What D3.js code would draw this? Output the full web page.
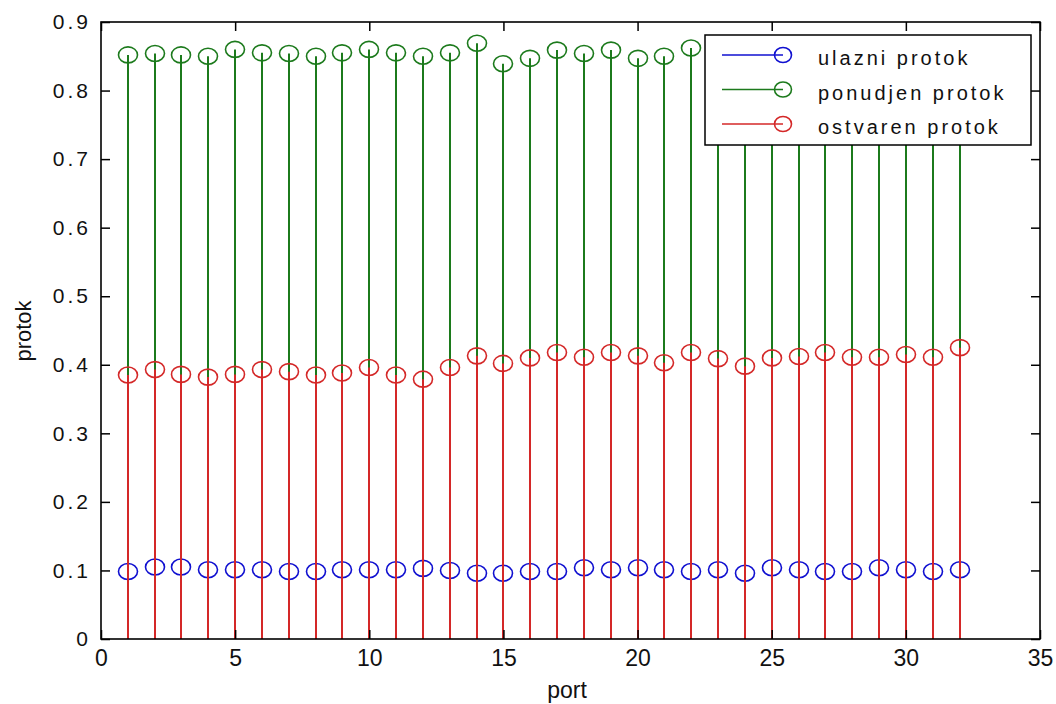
<!DOCTYPE html>
<html>
<head>
<meta charset="utf-8">
<title>protok po portu</title>
<script src="https://d3js.org/d3.v7.min.js"></script>
<style>
body { margin: 0; padding: 0; background: #fff; }
svg text { font-family: "Liberation Sans", Arial, sans-serif; fill: #111; }
</style>
</head>
<body>
<svg id="chart" width="1056" height="704"></svg>
<script>
// data
var ports = d3.range(1, 33);
var ulazni = [0.0985,0.105,0.105,0.101,0.101,0.101,0.0985,0.0985,0.101,0.101,0.101,0.103,0.100,0.096,0.096,0.0985,
              0.0985,0.104,0.101,0.104,0.101,0.0985,0.101,0.096,0.104,0.101,0.0985,0.0985,0.104,0.101,0.0985,0.101];
var ponudjen = [0.852,0.854,0.852,0.850,0.860,0.855,0.854,0.850,0.855,0.860,0.855,0.850,0.855,0.869,0.839,0.847,
                0.859,0.854,0.859,0.847,0.850,0.862,0.852,0.850,0.855,0.853,0.851,0.856,0.852,0.854,0.850,0.857];
var ostvaren = [0.385,0.393,0.386,0.382,0.386,0.393,0.390,0.385,0.388,0.396,0.385,0.379,0.396,0.413,0.402,0.410,
                0.418,0.411,0.418,0.413,0.403,0.418,0.409,0.398,0.410,0.412,0.418,0.411,0.411,0.415,0.411,0.425];
var seriesNames = ["ulazni protok", "ponudjen protok", "ostvaren protok"];
var seriesColors = ["#1010d0", "#1c7a1c", "#d42828"];
var xTicks = [0, 5, 10, 15, 20, 25, 30, 35];
var yTicks = [0, 0.1, 0.2, 0.3, 0.4, 0.5, 0.6, 0.7, 0.8, 0.9];

var margin = {top: 22, right: 16, bottom: 65, left: 101},
    width = 1056 - margin.left - margin.right,
    height = 704 - margin.top - margin.bottom;

var svg = d3.select("#chart");
var g = svg.append("g").attr("transform", "translate(" + margin.left + "," + margin.top + ")");

var x = d3.scaleLinear().domain([0, 35]).range([0, width]);
var y = d3.scaleLinear().domain([0, 0.9]).range([height, 0]);

var allSeries = [ulazni, ponudjen, ostvaren];

// stems + circles, drawn in series order (blue, green, red on top)
allSeries.forEach(function(vals, si) {
  var sg = g.append("g");
  var pts = ports.map(function(p, i) { return {p: p, v: vals[i]}; });
  sg.selectAll("line").data(pts).enter().append("line")
    .attr("x1", function(d) { return Math.round(x(d.p)); })
    .attr("x2", function(d) { return Math.round(x(d.p)); })
    .attr("y1", y(0))
    .attr("y2", function(d) { return y(d.v); })
    .attr("stroke", seriesColors[si])
    .attr("stroke-width", 2);
  sg.selectAll("ellipse").data(pts).enter().append("ellipse")
    .attr("cx", function(d) { return Math.round(x(d.p)); })
    .attr("cy", function(d) { return y(d.v); })
    .attr("rx", 9.5)
    .attr("ry", 8)
    .attr("fill", "none")
    .attr("stroke", seriesColors[si])
    .attr("stroke-width", 1.6);
});

// axes, inward ticks on all four sides
var tickLen = 9;
g.append("g").attr("transform", "translate(0," + height + ")")
  .call(d3.axisBottom(x).tickValues(xTicks).tickSizeInner(-tickLen).tickSizeOuter(0).tickPadding(11))
  .call(function(a) { a.selectAll("text").attr("font-size", 23).attr("fill", "#111"); });
g.append("g")
  .call(d3.axisTop(x).tickValues(xTicks).tickSizeInner(-tickLen).tickSizeOuter(0).tickFormat(""));
g.append("g")
  .call(d3.axisLeft(y).tickValues(yTicks).tickSizeInner(-tickLen).tickSizeOuter(0).tickPadding(10)
    .tickFormat(function(d) { return d === 0 ? "0" : d3.format(".1f")(d); }))
  .call(function(a) { a.selectAll("text").attr("font-size", 21).attr("letter-spacing", 3).attr("fill", "#111"); });
g.append("g").attr("transform", "translate(" + width + ",0)")
  .call(d3.axisRight(y).tickValues(yTicks).tickSizeInner(-tickLen).tickSizeOuter(0).tickFormat(""));
g.selectAll(".domain").remove();
g.selectAll(".tick line").attr("stroke", "#000").attr("stroke-width", 1.5);

g.append("rect").attr("width", width).attr("height", height)
  .attr("fill", "none").attr("stroke", "#000").attr("stroke-width", 1.6);

// axis titles
svg.append("text").attr("x", 567).attr("y", 698)
  .attr("text-anchor", "middle").attr("font-size", 23).text("port");
svg.append("text").attr("transform", "translate(31,331) rotate(-90)")
  .attr("text-anchor", "middle").attr("font-size", 22).text("protok");

// legend
var lg = svg.append("g").attr("transform", "translate(705,35)");
lg.append("rect").attr("width", 326).attr("height", 110)
  .attr("fill", "#fff").attr("stroke", "#000").attr("stroke-width", 1.5);
seriesNames.forEach(function(name, i) {
  var ly = 20 + i * 34.5;
  lg.append("line").attr("x1", 17).attr("x2", 78).attr("y1", ly).attr("y2", ly)
    .attr("stroke", seriesColors[i]).attr("stroke-width", 1.5);
  lg.append("ellipse").attr("cx", 78).attr("cy", ly).attr("rx", 8.5).attr("ry", 7.5)
    .attr("fill", "none").attr("stroke", seriesColors[i]).attr("stroke-width", 1.6);
  lg.append("text").attr("x", 113).attr("y", ly + 10).attr("font-size", 20)
    .attr("letter-spacing", 3).text(name);
});
</script>
</body>
</html>
